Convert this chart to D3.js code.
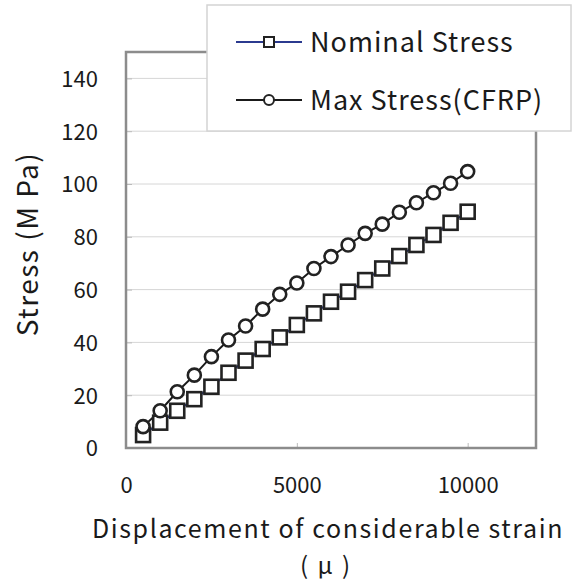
<!DOCTYPE html>
<html>
<head>
<meta charset="utf-8">
<script src="https://cdn.jsdelivr.net/npm/d3@7"></script>
<style>
  body { margin: 0; background: #fff; }
  svg text { font-family: "Noto Sans CJK JP", "Noto Sans", sans-serif; fill: #1a1a1a; }
</style>
</head>
<body>
<div id="chart"></div>
<script>
'use strict'

// strain (micro) at each reading
var strain = [500, 1000, 1500, 2000, 2500, 3000, 3500, 4000, 4500, 5000,
  5500, 6000, 6500, 7000, 7500, 8000, 8500, 9000, 9500, 10000]
var nominalStress = [4.9, 9.6, 14.1, 18.5, 23.2, 28.5, 33.1, 37.5, 41.9, 46.6,
  51.0, 55.4, 59.2, 63.6, 68.0, 72.7, 76.9, 80.7, 85.3, 89.5]
var maxStress = [8.1, 14.1, 21.3, 27.6, 34.6, 40.9, 46.2, 52.6, 58.2, 62.5,
  68.0, 72.5, 76.9, 81.3, 84.8, 89.3, 92.9, 96.7, 100.3, 104.7]
var xTicks = [0, 5000, 10000]
var yTicks = [0, 20, 40, 60, 80, 100, 120, 140]
var seriesNames = ['Nominal Stress', 'Max Stress(CFRP)']

var width = 572
var height = 583
var plot = { left: 126, top: 52, right: 536, bottom: 448 }

var svg = d3.select('#chart').append('svg')
  .attr('width', width)
  .attr('height', height)

var x = d3.scaleLinear().domain([0, 12000]).range([plot.left, plot.right])
var y = d3.scaleLinear().domain([0, 150]).range([plot.bottom, plot.top])

// gridlines
svg.append('g').selectAll('line')
  .data(yTicks.filter(function (d) { return d > 0 }))
  .enter().append('line')
  .attr('x1', plot.left).attr('x2', plot.right)
  .attr('y1', function (d) { return y(d) }).attr('y2', function (d) { return y(d) })
  .style('stroke', '#d6d6d6').style('stroke-width', '1px')

// axes (labels only, frame drawn below)
var yAxis = svg.append('g')
  .attr('transform', 'translate(' + plot.left + ',0)')
  .call(d3.axisLeft(y).tickValues(yTicks).tickFormat(d3.format('d')).tickSize(-6).tickPadding(28))
yAxis.select('.domain').remove()
yAxis.selectAll('line').style('stroke', '#bbb')
yAxis.selectAll('text').style('font-size', '22px').attr('dy', '0.36em')

var xAxis = svg.append('g')
  .attr('transform', 'translate(0,' + plot.bottom + ')')
  .call(d3.axisBottom(x).tickValues(xTicks).tickFormat(d3.format('d')).tickSize(-5).tickPadding(29))
xAxis.select('.domain').remove()
xAxis.selectAll('line').style('stroke', '#bbb')
xAxis.selectAll('text').style('font-size', '22px').attr('dy', '0.71em')

// plot frame
svg.append('rect')
  .attr('x', plot.left).attr('y', plot.top)
  .attr('width', plot.right - plot.left).attr('height', plot.bottom - plot.top)
  .style('fill', 'none').style('stroke', '#8c8c8c').style('stroke-width', '2.5px')

var line = d3.line()
  .x(function (d) { return x(d[0]) })
  .y(function (d) { return y(d[1]) })

var nominal = d3.zip(strain, nominalStress)
var maxs = d3.zip(strain, maxStress)

svg.append('path').datum(nominal).attr('d', line)
  .style('fill', 'none').style('stroke', '#2b3a8f').style('stroke-width', '2px')
svg.append('path').datum(maxs).attr('d', line)
  .style('fill', 'none').style('stroke', '#1a1a1a').style('stroke-width', '2px')

var sq = 14
svg.append('g').selectAll('rect')
  .data(nominal)
  .enter().append('rect')
  .attr('x', function (d) { return x(d[0]) - sq / 2 })
  .attr('y', function (d) { return y(d[1]) - sq / 2 })
  .attr('width', sq).attr('height', sq)
  .style('fill', '#fff').style('stroke', '#222').style('stroke-width', '2.6px')

svg.append('g').selectAll('circle')
  .data(maxs)
  .enter().append('circle')
  .attr('cx', function (d) { return x(d[0]) })
  .attr('cy', function (d) { return y(d[1]) })
  .attr('r', 6.5)
  .style('fill', '#fff').style('stroke', '#222').style('stroke-width', '2.6px')

// axis titles
svg.append('text')
  .attr('transform', 'translate(38,244) rotate(-90)')
  .attr('text-anchor', 'middle')
  .style('font-size', '28px')
  .style('letter-spacing', '1.5px')
  .text('Stress (M Pa)')

svg.append('text')
  .attr('x', 328).attr('y', 538)
  .attr('text-anchor', 'middle')
  .style('font-size', '25px')
  .style('letter-spacing', '1.6px')
  .text('Displacement of considerable strain')

svg.append('text')
  .attr('x', 326).attr('y', 574)
  .attr('text-anchor', 'middle')
  .style('font-size', '24px')
  .style('letter-spacing', '2px')
  .text('( μ )')

// legend
var legend = svg.append('g')
legend.append('rect')
  .attr('x', 207).attr('y', 5).attr('width', 364).attr('height', 126)
  .style('fill', '#fff').style('stroke', '#d4d4d4').style('stroke-width', '1.5px')

var rows = legend.selectAll('g.row')
  .data(seriesNames)
  .enter().append('g')
  .attr('class', 'row')
  .attr('transform', function (d, i) { return 'translate(0,' + (42 + i * 58) + ')' })

rows.append('line')
  .attr('x1', 236).attr('x2', 302).attr('y1', 0).attr('y2', 0)
  .style('stroke', function (d, i) { return i === 0 ? '#2b3a8f' : '#1a1a1a' })
  .style('stroke-width', '2px')

rows.filter(function (d, i) { return i === 0 }).append('rect')
  .attr('x', 264).attr('y', -5).attr('width', 10).attr('height', 10)
  .style('fill', '#fff').style('stroke', '#222').style('stroke-width', '2px')
rows.filter(function (d, i) { return i === 1 }).append('circle')
  .attr('cx', 269).attr('cy', 0).attr('r', 5)
  .style('fill', '#fff').style('stroke', '#222').style('stroke-width', '2px')

rows.append('text')
  .attr('x', 310).attr('y', 0).attr('dy', '0.36em')
  .style('font-size', '27px')
  .style('letter-spacing', '1px')
  .text(function (d) { return d })
</script>
</body>
</html>
